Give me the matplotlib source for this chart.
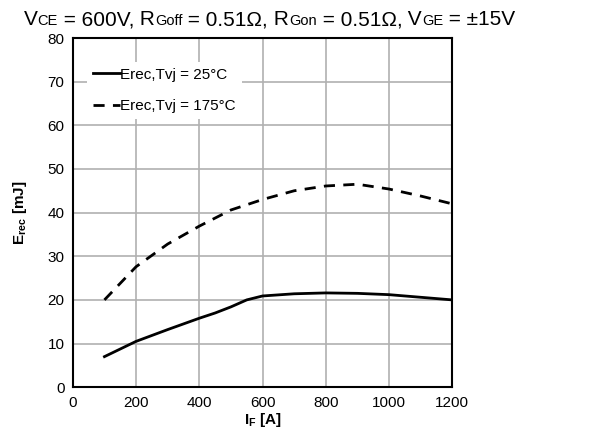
import matplotlib
matplotlib.use("Agg")
import matplotlib.pyplot as plt
from matplotlib.offsetbox import TextArea, HPacker, AnchoredOffsetbox

plt.rcParams['font.family'] = ['Liberation Sans', 'DejaVu Sans']

i_f = [100, 200, 300, 400, 450, 500, 550, 600, 700, 800, 900, 1000, 1100, 1200]
erec_25 = [7, 10.5, 13.2, 15.8, 17.0, 18.4, 20.0, 20.9, 21.4, 21.6, 21.5, 21.2, 20.6, 20.0]

i_f_hot = [100, 200, 300, 400, 500, 600, 700, 800, 900, 1000, 1100, 1200]
erec_175 = [20, 27.6, 32.8, 36.9, 40.6, 43.0, 45.0, 46.1, 46.5, 45.4, 43.8, 42.0]

fig = plt.figure(figsize=(6.12, 4.42), dpi=100)
ax = fig.add_axes([0.119, 0.124, 0.620, 0.790])

ax.plot(i_f, erec_25, color='black', lw=2, label='Erec,Tvj = 25°C')
ax.plot(i_f_hot, erec_175, color='black', lw=2, ls=(0, (4, 3)), label='Erec,Tvj = 175°C')

ax.set_xlim(0, 1200)
ax.set_ylim(0, 80)
ax.set_xticks(range(0, 1201, 200))
ax.set_yticks(range(0, 81, 10))
ax.grid(True, color='#b0b0b0', lw=1.2)
ax.set_axisbelow(True)
ax.tick_params(length=0, labelsize=11, pad=6)
for s in ax.spines.values():
    s.set_linewidth(1.5)

ax.set_xlabel(r'I$_\mathregular{F}$ [A]', fontsize=11, fontweight='bold', labelpad=1)
ax.set_ylabel(r'E$_\mathregular{rec}$ [mJ]', fontsize=11, fontweight='bold', labelpad=13)

leg = ax.legend(loc='upper left', bbox_to_anchor=(0.02, 0.95), frameon=True, fontsize=11,
                handlelength=1.8, handletextpad=0.0, borderaxespad=0.4, labelspacing=1.15)
leg.get_frame().set_edgecolor('none')
leg.get_frame().set_facecolor('white')
leg.get_frame().set_alpha(1)

# title with baseline subscripts
big = dict(size=15)
small = dict(size=10.5)
parts = [("V", big), ("CE", small), (" = 600V,", big), (" R", big), ("Goff", small),
         (" = 0.51Ω,", big), (" R", big), ("Gon", small), (" = 0.51Ω,", big), (" V", big),
         ("GE", small), (" = ±15V", big)]
box = HPacker(children=[TextArea(t, textprops=p) for t, p in parts], align="baseline", pad=0, sep=0)
anch = AnchoredOffsetbox(loc='center', child=box, frameon=False,
                         bbox_to_anchor=(0.44, 0.955), bbox_transform=fig.transFigure, pad=0, borderpad=0)
fig.add_artist(anch)

fig.savefig('out.png', dpi=100)
